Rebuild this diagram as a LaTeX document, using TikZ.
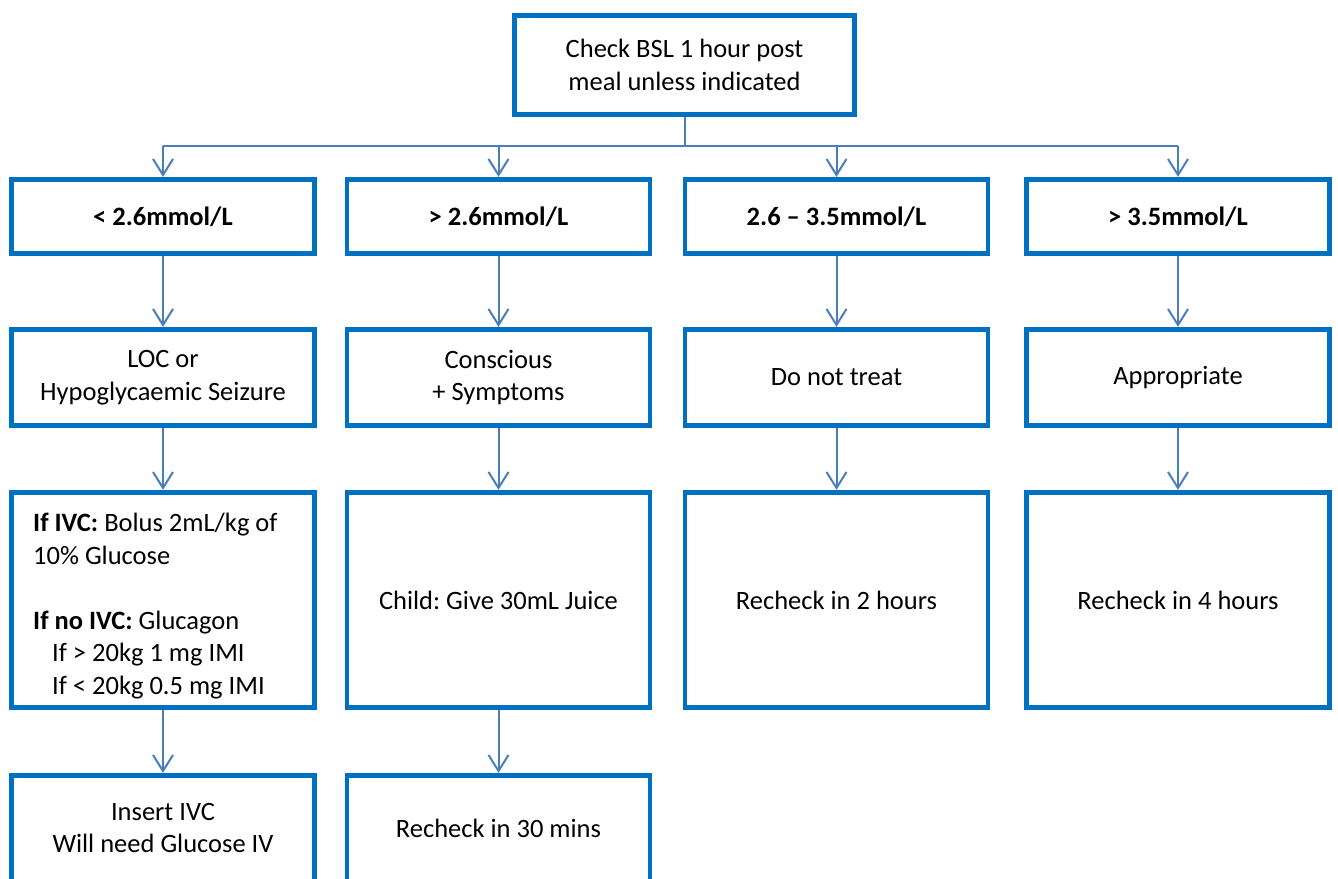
\documentclass[tikz,border=0pt]{standalone}
\usepackage{fontspec}
\setmainfont{Carlito}
\frenchspacing
\usetikzlibrary{arrows.meta}
\definecolor{boxblue}{HTML}{0070C0}
\definecolor{arrblue}{HTML}{4A7EBB}
\tikzset{
  flowbox/.style={draw=boxblue, line width=4.8pt, fill=white, minimum width=303pt, align=center, inner sep=0pt, font=\fontsize{26.5}{32.5}\selectfont},
  arr/.style={draw=arrblue, line width=2pt, -{Straight Barb[length=16pt,width=20pt]}},
  conn/.style={draw=arrblue, line width=2pt},
  txt/.style={align=center, inner sep=0pt, font=\fontsize{26.5}{32.5}\selectfont}
}
\begin{document}
\frenchspacing
\begin{tikzpicture}[x=1pt,y=-1pt]
\useasboundingbox (0,0) rectangle (1338,878);
\clip (0,0) rectangle (1338,878);
\fill[white] (0,0) rectangle (1338,878);

% top
\node[flowbox, minimum width=340.5pt, minimum height=99.5pt] (top) at (684.5,65) {\frenchspacing Check BSL 1 hour post\\meal unless indicated};

% row 1
\node[flowbox, minimum height=74.5pt] (r1a) at (163,216.5) {\textbf{< 2.6mmol/L}};
\node[flowbox, minimum height=74.5pt] (r1b) at (498.5,216.5) {\textbf{> 2.6mmol/L}};
\node[flowbox, minimum height=74.5pt] (r1c) at (836.5,216.5) {\textbf{2.6 – 3.5mmol/L}};
\node[flowbox, minimum height=74.5pt] (r1d) at (1178,216.5) {\textbf{> 3.5mmol/L}};

% row 2
\node[flowbox, minimum height=96.5pt] (r2a) at (163,377.5) {LOC or\\Hypoglycaemic Seizure};
\node[flowbox, minimum height=96.5pt] (r2b) at (498.5,377.5) {Conscious\\+ Symptoms};
\node[flowbox, minimum height=96.5pt] (r2c) at (836.5,377.5) {Do not treat};
\node[flowbox, minimum height=96.5pt] (r2d) at (1178,377.5) {Appropriate};

% row 3
\node[flowbox, minimum height=215.5pt] (r3a) at (163,600) {};
\node[txt, align=left, anchor=west] (r3atxt) at (33,606) {\frenchspacing\textbf{If IVC:} Bolus 2mL/kg of\\10\% Glucose\\[32.5pt]\textbf{If no IVC:} Glucagon\\\hspace*{19pt}If > 20kg 1 mg IMI\\\hspace*{19pt}If < 20kg 0.5 mg IMI};
\node[flowbox, minimum height=215.5pt] (r3b) at (498.5,600) {\frenchspacing Child: Give 30mL Juice};
\node[flowbox, minimum height=215.5pt] (r3c) at (836.5,600) {Recheck in 2 hours};
\node[flowbox, minimum height=215.5pt] (r3d) at (1178,600) {Recheck in 4 hours};

% row 4
\node[flowbox, minimum height=200pt] (r4a) at (163,875.25) {};
\node[txt] (r4atxt) at (163,828) {Insert IVC\\Will need Glucose IV};
\node[flowbox, minimum height=200pt] (r4b) at (498.5,875.25) {};
\node[txt] (r4btxt) at (498.5,828) {Recheck in 30 mins};

% connectors
\coordinate (hl) at (163,146);
\coordinate (hr) at (1178,146);
\draw[conn] (top.south) -- (top.south |- hl);
\draw[conn] (hl) -- (hr);
\foreach \n in {r1a,r1b,r1c,r1d} {
  \draw[arr] (\n.north |- hl) -- (\n.north);
}
\draw[arr] (r1a) -- (r2a);
\draw[arr] (r1b) -- (r2b);
\draw[arr] (r1c) -- (r2c);
\draw[arr] (r1d) -- (r2d);
\draw[arr] (r2a) -- (r3a);
\draw[arr] (r2b) -- (r3b);
\draw[arr] (r2c) -- (r3c);
\draw[arr] (r2d) -- (r3d);
\draw[arr] (r3a) -- (r4a.north);
\draw[arr] (r3b) -- (r4b.north);
\end{tikzpicture}
\end{document}
